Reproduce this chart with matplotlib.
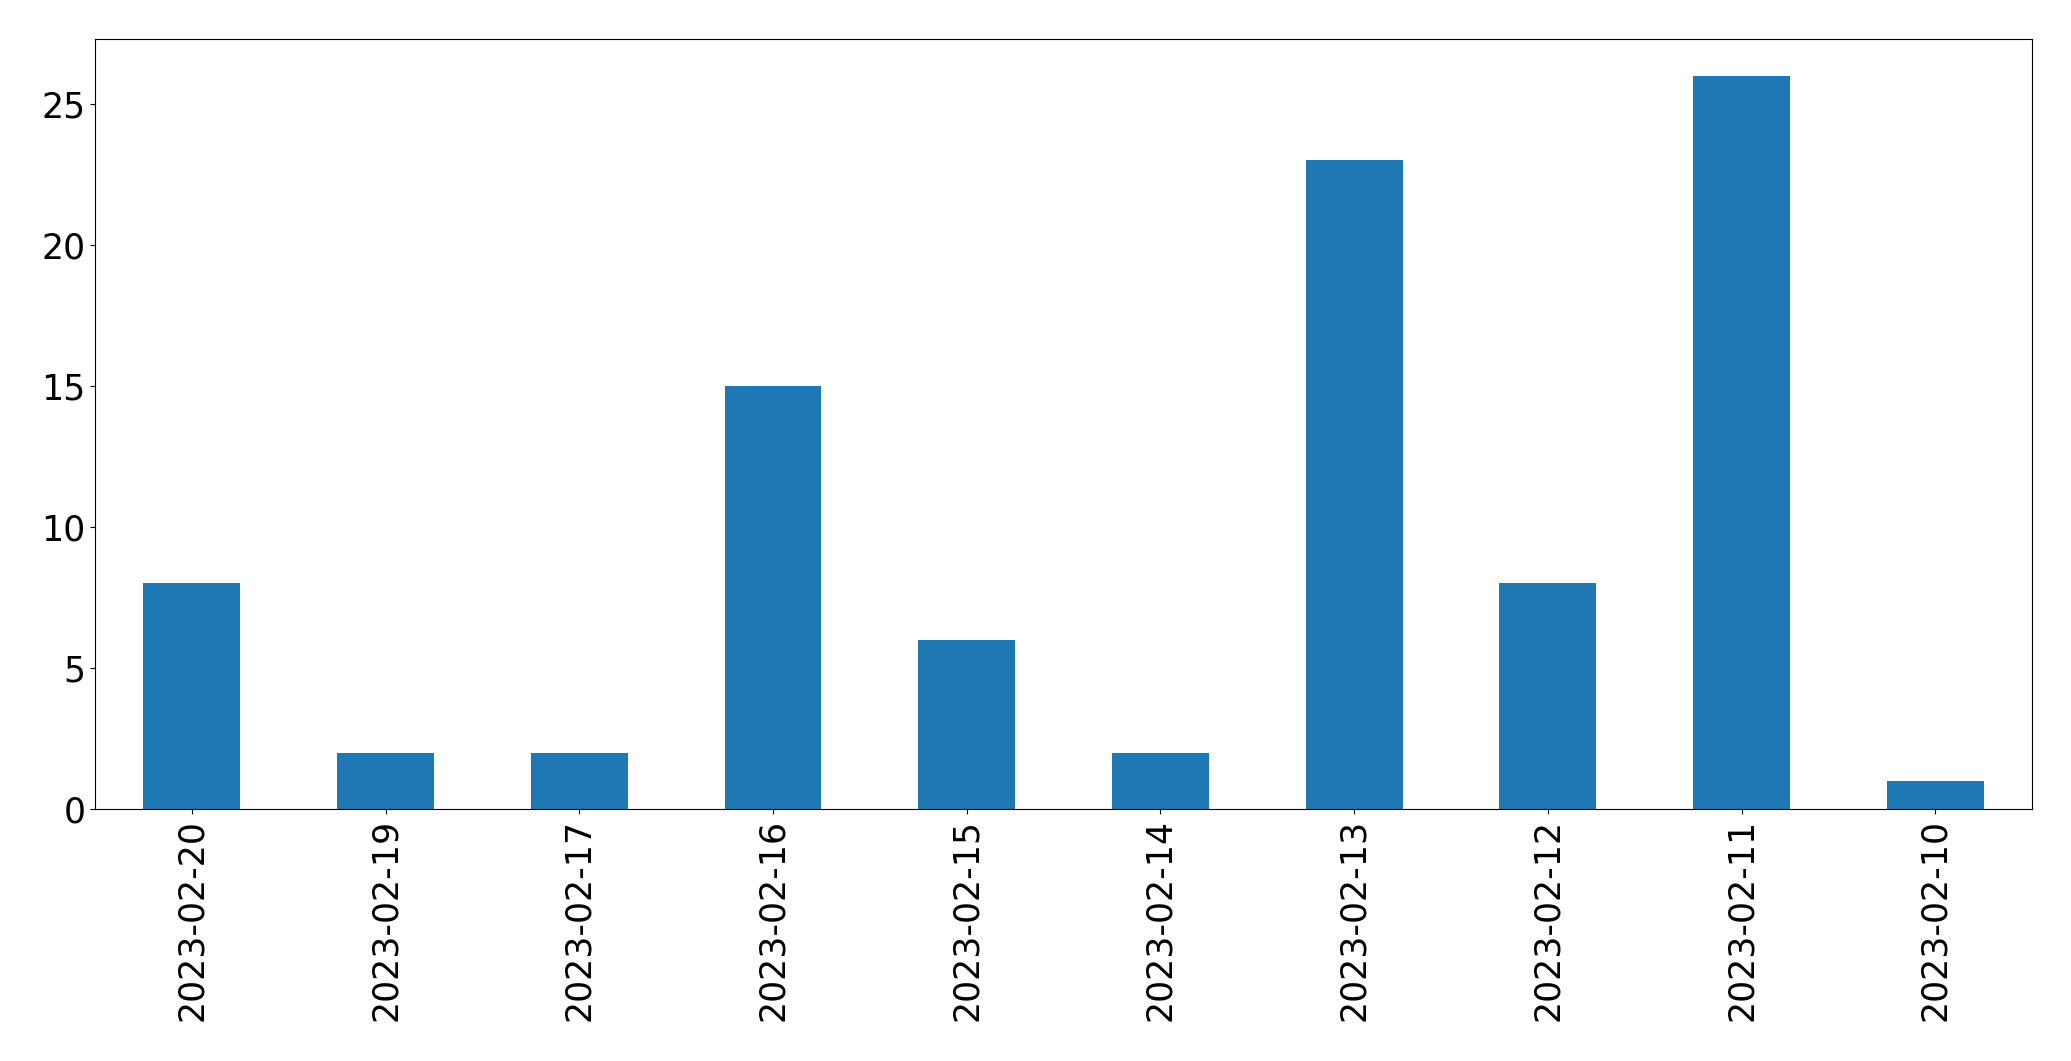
import matplotlib
matplotlib.use('Agg')
import matplotlib.pyplot as plt
import pandas as pd

dates = ['2023-02-20', '2023-02-19', '2023-02-17', '2023-02-16', '2023-02-15',
         '2023-02-14', '2023-02-13', '2023-02-12', '2023-02-11', '2023-02-10']
counts = [8, 2, 2, 15, 6, 2, 23, 8, 26, 1]

s = pd.Series(counts, index=dates)

fig, ax = plt.subplots(figsize=(20.71, 10.61), dpi=100)
s.plot(kind='bar', ax=ax, color='#1f77b4')
ax.tick_params(axis='both', labelsize=25)
fig.subplots_adjust(left=0.0459, right=0.9812, top=0.9632, bottom=0.2375)
fig.savefig('out.png', dpi=100)
